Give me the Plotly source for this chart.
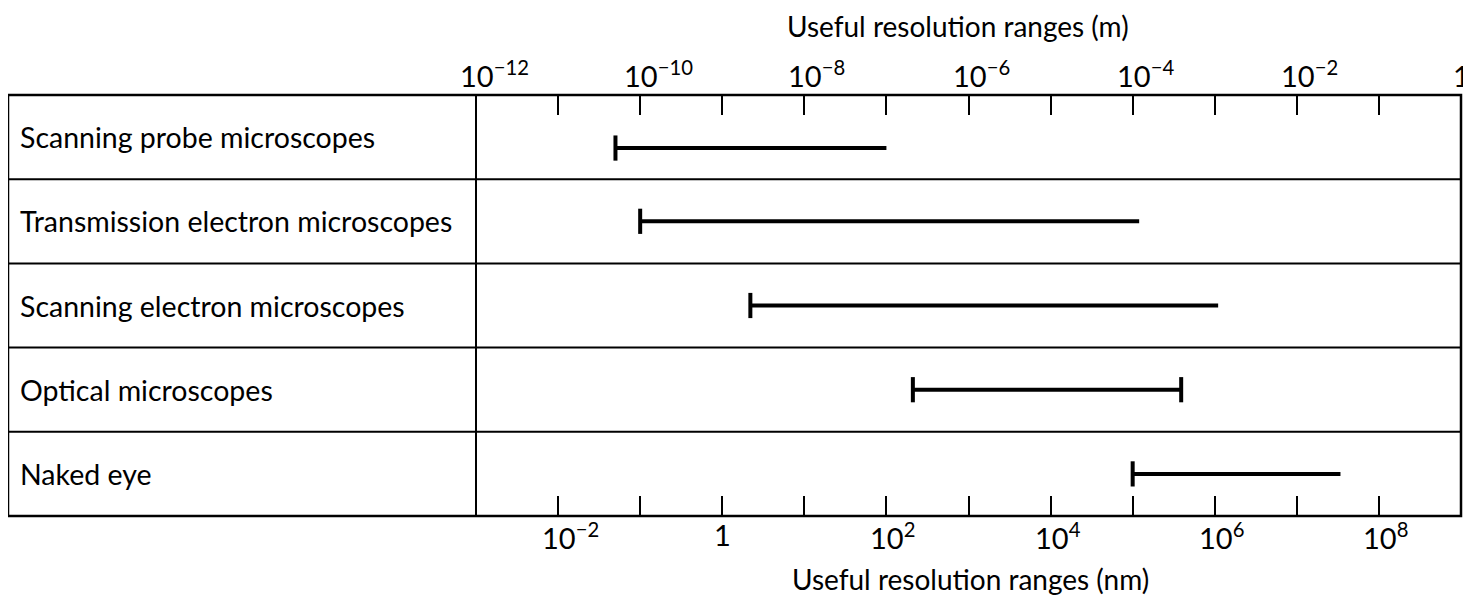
import plotly.graph_objects as go

# ---- data ----
techniques = [
    "Scanning probe microscopes",
    "Transmission electron microscopes",
    "Scanning electron microscopes",
    "Optical microscopes",
    "Naked eye",
]
range_lo_nm = [0.05, 0.1, 2.2, 210, 1e5]
range_hi_nm = [100, 1.2e5, 1.1e6, 3.9e5, 3.4e7]
right_cap = [False, False, False, True, False]

top_exponents = list(range(-12, 1))      # metres
top_label_exps = [-12, -10, -8, -6, -4, -2, 0]
bottom_exponents = list(range(-3, 10))   # nanometres
bottom_label_exps = [-2, 0, 2, 4, 6, 8]

FONT = "Lato"
n = len(techniques)
row_y = [n - 0.5 - i for i in range(n)]
row_offset = [-0.13, 0, 0, 0, 0]

fig = go.Figure()

for i in range(n):
    y = row_y[i] + row_offset[i]
    fig.add_trace(go.Scatter(
        x=[range_lo_nm[i], range_hi_nm[i]], y=[y, y],
        mode="lines", line=dict(color="black", width=4),
        xaxis="x", yaxis="y", showlegend=False, hoverinfo="skip"))
    cap_x = [range_lo_nm[i]] + ([range_hi_nm[i]] if right_cap[i] else [])
    fig.add_trace(go.Scatter(
        x=cap_x, y=[y] * len(cap_x), mode="markers",
        marker=dict(symbol="line-ns", size=18, line=dict(color="black", width=4)),
        xaxis="x", yaxis="y", showlegend=False, hoverinfo="skip"))

# same ranges in metres, invisible, to register the top axis
fig.add_trace(go.Scatter(
    x=[v * 1e-9 for v in range_lo_nm + range_hi_nm], y=row_y + row_y,
    mode="markers", marker=dict(size=1, opacity=0), xaxis="x2", yaxis="y",
    showlegend=False, hoverinfo="skip"))

OFF = 8  # page body margin
W, H = 1471 - OFF, 596 - OFF
ML, MT = 476 - OFF, 95 - OFF
PR, PB = 1461 - OFF, 516 - OFF
MR, MB = W - PR, H - PB
PW = W - ML - MR
PH = H - MT - MB


def px(xr):
    return (xr - OFF - ML) / PW


def py(yr):
    return (PB - (yr - OFF)) / PH


left_edge = px(8)

fig.update_layout(
    width=W, height=H,
    margin=dict(l=ML, r=MR, t=MT, b=MB),
    paper_bgcolor="white", plot_bgcolor="white",
    font=dict(family=FONT, color="black", size=28),
    xaxis=dict(type="log", range=[-3, 9], tickvals=[10.0 ** k for k in bottom_exponents],
               showticklabels=False, ticks="inside", ticklen=20, tickwidth=2,
               tickcolor="black", showgrid=False, zeroline=False, showline=False),
    xaxis2=dict(type="log", range=[-12, 0], overlaying="x", side="top", anchor="y",
                tickvals=[10.0 ** k for k in top_exponents], showticklabels=False,
                ticks="inside", ticklen=20, tickwidth=2, tickcolor="black",
                showgrid=False, zeroline=False, showline=False),
    yaxis=dict(range=[0, n], visible=False, fixedrange=True),
)


def exp_label(k):
    if k == 0:
        return "1"
    return "10<sup>" + ("−" + str(-k) if k < 0 else str(k)) + "</sup>"


ann = []
for k in top_label_exps:
    ann.append(dict(xref="x2", yref="paper", x=k, y=1, text=exp_label(k),
                    showarrow=False, xanchor="center" if k == 0 else "left",
                    xshift=0 if k == 0 else -18, yanchor="bottom", yshift=0,
                    font=dict(size=29)))
for k in bottom_label_exps:
    ann.append(dict(xref="x", yref="paper", x=k, y=0, text=exp_label(k),
                    showarrow=False, xanchor="center" if k == 0 else "left",
                    xshift=0 if k == 0 else -18, yanchor="top", yshift=1,
                    font=dict(size=29)))
for i, t in enumerate(techniques):
    ann.append(dict(xref="paper", yref="y", x=px(18), y=row_y[i], text=t,
                    showarrow=False, xanchor="left", yanchor="middle",
                    font=dict(size=28.5)))
ann.append(dict(xref="paper", yref="paper", x=px(958), y=py(26),
                text="Useful resolution ranges (m)", showarrow=False,
                xanchor="center", yanchor="middle", font=dict(size=28)))
ann.append(dict(xref="paper", yref="paper", x=px(970), y=py(579),
                text="Useful resolution ranges (nm)", showarrow=False,
                xanchor="center", yanchor="middle", font=dict(size=28)))
fig.update_layout(annotations=ann)

shapes = [dict(type="rect", xref="paper", yref="paper", x0=left_edge, x1=1, y0=0, y1=1,
               line=dict(color="black", width=2.5)),
          dict(type="line", xref="paper", yref="paper", x0=0, x1=0, y0=0, y1=1,
               line=dict(color="black", width=2))]
for j in range(1, n):
    shapes.append(dict(type="line", xref="paper", yref="y", x0=left_edge, x1=1, y0=j, y1=j,
                       line=dict(color="black", width=2)))
fig.update_layout(shapes=shapes)

fig.write_html("out.html")
